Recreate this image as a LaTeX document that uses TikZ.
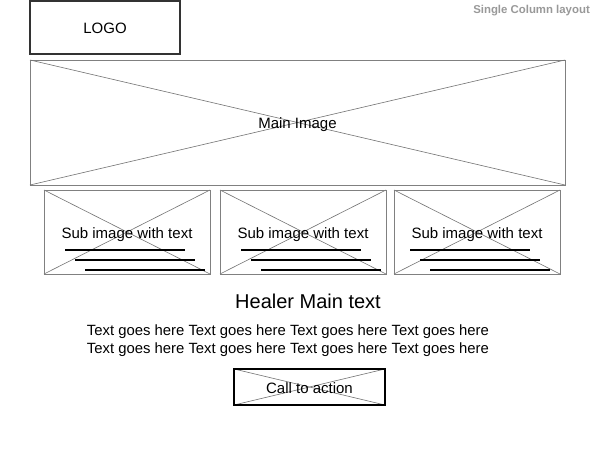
\documentclass[tikz,border=0pt]{standalone}
\usepackage{fontspec}
\setmainfont{Liberation Sans}
\begin{document}
\begin{tikzpicture}[x=1pt,y=-1pt,
  box/.style={draw, rectangle, inner sep=0pt, outer sep=0pt, font=\fontsize{15}{18}\selectfont},
  diag/.style={draw=black!55, line width=0.6pt},
  bar/.style={line width=2.8pt, black},
  body/.style={font=\fontsize{14.85}{17}\selectfont, inner sep=0pt}]
\useasboundingbox[fill=white] (0,0) rectangle (600,450);
% header label
\node[anchor=east, font=\bfseries\fontsize{11.4}{13}\selectfont, text=black!40, inner sep=0pt] (title) at (590,11) {Single Column layout};
% logo
\node[box, draw=black!80, line width=1.3pt, minimum width=150, minimum height=53, text depth=0pt] (logo) at (105,27.5) {\raisebox{-1pt}{LOGO}};
% main image
\path (30,60) coordinate (mnw) (565,185) coordinate (mse);
\draw[draw=black!50, line width=0.8pt] (mnw) rectangle (mse);
\draw[diag] (mnw) -- (mse);
\draw[diag] (30,185) -- (565,60);
\node[font=\fontsize{15}{18}\selectfont, inner sep=0pt] (mainlabel) at (297.5,124.5) {Main Image};
% sub images
\foreach \i/\x/\o in {1/44/21, 2/220/21, 3/394/16} {
  \draw[diag] (\x,190) -- (\x+166,274);
  \draw[diag] (\x,274) -- (\x+166,190);
  \draw[draw=black!50, line width=0.8pt] (\x,190) rectangle (\x+166,274);
  \node[font=\fontsize{15}{18}\selectfont, inner sep=0pt] (sub\i) at (\x+83,234.5) {Sub image with text};
  \draw[bar] (\x+\o,250) -- (\x+\o+120,250);
  \draw[bar] (\x+\o+10,260) -- (\x+\o+130,260);
  \draw[bar] (\x+\o+20,270) -- (\x+\o+140,270);
}
% main text
\node[font=\fontsize{20}{24}\selectfont, inner sep=0pt] (healer) at (308,301.5) {Healer Main text};
\node[body] (t1) at (288,331.5) {Text goes here Text goes here Text goes here Text goes here};
\node[body] (t2) at (288,349.5) {Text goes here Text goes here Text goes here Text goes here};
% call to action
\path (234,369) coordinate (cnw) (385,405) coordinate (cse);
\draw[diag] (cnw) -- (cse);
\draw[diag] (234,405) -- (385,369);
\draw[black, line width=2pt] (cnw) rectangle (cse);
\node[font=\fontsize{15}{18}\selectfont, inner sep=0pt] (cta) at (309.5,388.5) {Call to action};
\end{tikzpicture}
\end{document}
